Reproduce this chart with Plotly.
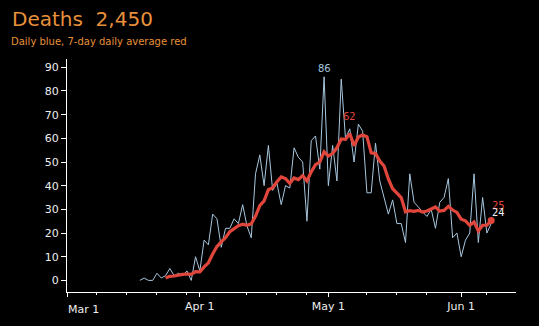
import plotly.graph_objects as go
import pandas as pd

# ---------------- data ----------------
start_date = "2020-03-18"
daily_deaths = [
    0, 1, 0, 0, 3, 1, 2,            # Mar 18-24
    5, 2, 3, 2, 4, 0, 10,           # Mar 25-31
    4, 17, 15, 28, 26, 14, 22,      # Apr 1-7
    22, 26, 24, 32, 23, 18, 45,     # Apr 8-14
    53, 40, 57, 38, 41, 32, 40,     # Apr 15-21
    39, 56, 52, 50, 25, 59, 61,     # Apr 22-28
    47, 86, 40, 57, 42, 85, 60,     # Apr 29-May 5
    64, 50, 66, 63, 37, 37, 58,     # May 6-12
    42, 35, 28, 34, 24, 24, 16,     # May 13-19
    45, 33, 31, 29, 27, 30, 22,     # May 20-26
    33, 35, 43, 18, 20, 10, 17,     # May 27-Jun 2
    20, 45, 16, 35, 20, 24,         # Jun 3-8
]

avg_start_date = "2020-03-24"
avg7_deaths = [
    1.00, 1.71, 1.86, 2.29, 2.57, 2.71, 2.57, 3.71, 3.57, 5.71,
    7.43, 11.14, 14.29, 16.29, 18.00, 20.57, 21.86, 23.14, 23.71, 23.29,
    23.86, 27.14, 31.57, 33.57, 38.29, 39.14, 41.71, 43.71, 43.00, 41.00,
    43.29, 42.57, 44.29, 42.00, 45.86, 48.86, 50.00, 54.29, 52.57, 53.57,
    56.00, 59.71, 59.57, 62.00, 56.86, 60.57, 61.43, 60.71, 53.86, 53.57,
    50.43, 48.29, 42.86, 38.71, 36.86, 35.00, 29.00, 29.43, 29.14, 29.57,
    28.86, 29.29, 30.14, 31.00, 29.29, 29.57, 31.29, 29.71, 28.71, 25.86,
    25.14, 23.29, 24.71, 20.86, 23.29, 23.29, 25.29,
]

title_text = "Deaths  2,450"
subtitle_text = "Daily blue, 7-day daily average red"

x_tick_dates = ["2020-03-01", "2020-04-01", "2020-05-01", "2020-06-01"]
x_tick_labels = ["Mar 1", "Apr 1", "May 1", "Jun 1"]
x_minor_dates = ["2020-03-08", "2020-03-15", "2020-03-22", "2020-03-29",
                 "2020-04-12", "2020-04-19", "2020-04-26",
                 "2020-05-10", "2020-05-17", "2020-05-24", "2020-06-07"]
y_tick_values = [0, 10, 20, 30, 40, 50, 60, 70, 80, 90]

# ---------------- style ----------------
BLUE = "#a7c7df"
RED = "#e0463c"
ORANGE = "#e8903a"
TEXT = "#eeeeee"
FONT = "DejaVu Sans"

dates = pd.date_range(start_date, periods=len(daily_deaths), freq="D")
avg_dates = pd.date_range(avg_start_date, periods=len(avg7_deaths), freq="D")

fig = go.Figure()
fig.add_trace(go.Scatter(x=dates, y=daily_deaths, mode="lines",
                         line=dict(color=BLUE, width=1), hoverinfo="skip"))
fig.add_trace(go.Scatter(x=avg_dates, y=avg7_deaths, mode="lines",
                         line=dict(color=RED, width=3.2), hoverinfo="skip"))
fig.add_trace(go.Scatter(x=[avg_dates[-1]], y=[avg7_deaths[-1]], mode="markers",
                         marker=dict(color=RED, size=7), hoverinfo="skip"))

# labels
i_max = daily_deaths.index(max(daily_deaths))
j_max = avg7_deaths.index(max(avg7_deaths))
annotations = [
    dict(x=dates[i_max], y=daily_deaths[i_max], xref="x", yref="y",
         text=str(daily_deaths[i_max]), showarrow=False, yanchor="middle",
         yshift=8, font=dict(size=10, color=BLUE, family=FONT)),
    dict(x=avg_dates[j_max], y=avg7_deaths[j_max], xref="x", yref="y",
         text=str(round(avg7_deaths[j_max])), showarrow=False, yanchor="middle",
         yshift=17, font=dict(size=10, color=RED, family=FONT)),
    dict(x=avg_dates[-1], y=avg7_deaths[-1], xref="x", yref="y",
         text=str(round(avg7_deaths[-1])), showarrow=False, xanchor="left",
         yanchor="middle", yshift=15, xshift=-1,
         font=dict(size=10, color=RED, family=FONT)),
    dict(x=dates[-1], y=daily_deaths[-1], xref="x", yref="y",
         text=str(daily_deaths[-1]), showarrow=False, xanchor="left",
         yanchor="middle", yshift=11, xshift=-1,
         font=dict(size=10, color=TEXT, family=FONT)),
    dict(x=0, y=1, xref="paper", yref="paper", text=subtitle_text,
         showarrow=False, xanchor="left", yanchor="middle", xshift=-58, yshift=18,
         font=dict(size=10, color=ORANGE, family=FONT)),
    dict(x=x_tick_dates[0], y=0, xref="x", yref="paper", text=x_tick_labels[0],
         showarrow=False, xanchor="left", yanchor="middle", yshift=-17, xshift=-1,
         font=dict(size=11, color=TEXT, family=FONT)),
]

fig.update_layout(
    width=539, height=326,
    margin=dict(l=67, r=23, t=59, b=34),
    paper_bgcolor="black", plot_bgcolor="black",
    showlegend=False,
    font=dict(family=FONT, color=TEXT, size=11),
    title=dict(text=title_text, x=12 / 539, xanchor="left", xref="container",
               y=1 - 18.5 / 326, yref="container", yanchor="middle",
               font=dict(size=20, color=ORANGE, family=FONT)),
    annotations=annotations,
    xaxis=dict(
        type="date",
        range=["2020-03-01", "2020-06-13 19:00"],
        tickmode="array", tickvals=x_tick_dates,
        ticktext=[""] + x_tick_labels[1:],
        ticks="outside", ticklen=4, tickcolor="white", tickwidth=1,
        showline=True, linecolor="white", linewidth=1,
        showgrid=False, zeroline=False,
        tickfont=dict(size=11, color=TEXT, family=FONT),
        minor=dict(tickmode="array", tickvals=x_minor_dates, ticks="outside",
                   ticklen=2, tickcolor="white", showgrid=False),
    ),
    yaxis=dict(
        range=[-4.9, 93.5],
        tickmode="array", tickvals=y_tick_values,
        ticks="outside", ticklen=5, tickcolor="white", tickwidth=1,
        showline=True, linecolor="white", linewidth=1,
        showgrid=False, zeroline=False,
        tickfont=dict(size=11, color=TEXT, family=FONT),
    ),
)

fig.write_html("out.html", config={"displayModeBar": False})
